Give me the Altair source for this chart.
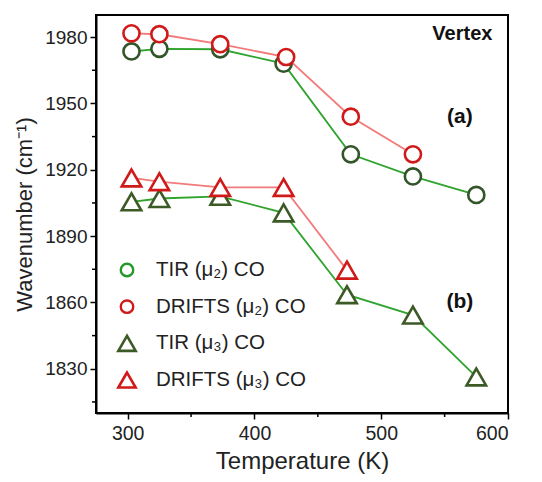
import altair as alt
import pandas as pd

# ---- data ----
series_names = ["TIR (μ₂) CO", "DRIFTS (μ₂) CO", "TIR (μ₃) CO", "DRIFTS (μ₃) CO"]

tir_mu2_T = [303, 325, 373, 423, 476, 525, 575]
tir_mu2_v = [1973.5, 1974.7, 1974.5, 1968.0, 1927.0, 1917.0, 1908.6]

drifts_mu2_T = [303, 325, 373, 425, 476, 525]
drifts_mu2_v = [1981.7, 1981.3, 1976.8, 1971.0, 1944.0, 1927.0]

tir_mu3_T = [303, 325, 373, 423, 473, 525, 575]
tir_mu3_v = [1905.5, 1907.0, 1908.0, 1900.5, 1863.5, 1854.3, 1826.3]

drifts_mu3_T = [303, 325, 373, 423, 473]
drifts_mu3_v = [1916.3, 1914.6, 1912.0, 1912.0, 1874.6]

x_major = [300, 400, 500, 600]
x_minor = [350, 450, 550]
y_major = [1830, 1860, 1890, 1920, 1950, 1980]
y_minor = [1815, 1845, 1875, 1905, 1935, 1965]

annot_text = ["Vertex", "(a)", "(b)"]
annot_T = [564, 562, 562]
annot_v = [1981.4, 1944.0, 1860.2]
annot_size = [20, 21, 21]

marker_colors = ["#33552a", "#d01a1a", "#3c5a25", "#d01a1a"]
legend_colors = ["#22992a", "#d01a1a", "#3c5a25", "#d01a1a"]
line_colors = ["#2ea32e", "#f27a7a", "#2ea32e", "#f27a7a"]
shapes = ["circle", "circle", "triangle-up", "triangle-up"]

rows = []
for name, Ts, vs in zip(series_names,
                        [tir_mu2_T, drifts_mu2_T, tir_mu3_T, drifts_mu3_T],
                        [tir_mu2_v, drifts_mu2_v, tir_mu3_v, drifts_mu3_v]):
    for t, v in zip(Ts, vs):
        rows.append({"series": name, "line": name, "T": t, "v": v})
df = pd.DataFrame(rows)
ann = pd.DataFrame({"text": annot_text, "T": annot_T, "v": annot_v, "fs": annot_size})
xm = pd.DataFrame({"T": x_minor})
ym = pd.DataFrame({"v": y_minor})
leg = pd.DataFrame({"entry": series_names})

FONT = "Liberation Sans"

x_scale = alt.Scale(domain=[275, 600], nice=False, zero=False)
y_scale = alt.Scale(domain=[1810, 1990], nice=False, zero=False)

x_axis = alt.Axis(
    title="Temperature (K)",
    values=x_major, format="d", tickSize=6,
    grid=False,
    domainColor="black", domainWidth=2, tickColor="black", tickWidth=1.5,
    labelFontSize=19.5, labelFont=FONT, labelColor="#222",
    titleFontSize=24, titleFont=FONT, titleFontWeight="normal", titleColor="#222",
    labelPadding=5, titlePadding=7,
)
y_axis = alt.Axis(
    title="Wavenumber (cm⁻¹)",
    values=y_major, format="d", tickSize=6,
    grid=False,
    domainColor="black", domainWidth=2, tickColor="black", tickWidth=1.5,
    labelFontSize=19, labelFont=FONT, labelColor="#222",
    titleFontSize=22, titleFont=FONT, titleFontWeight="normal", titleColor="#222",
    labelPadding=3, titlePadding=8,
)

base = alt.Chart(df)

lines = base.mark_line(strokeWidth=1.8).encode(
    x=alt.X("T:Q", scale=x_scale, axis=x_axis),
    y=alt.Y("v:Q", scale=y_scale, axis=y_axis),
    stroke=alt.Stroke("line:N", scale=alt.Scale(domain=series_names, range=line_colors), legend=None),
    detail="line:N",
)

color_enc = alt.Color("series:N", scale=alt.Scale(domain=series_names, range=marker_colors), legend=None)
shape_enc = alt.Shape("series:N", scale=alt.Scale(domain=series_names, range=shapes), legend=None)

circles = base.transform_filter(
    alt.FieldOneOfPredicate(field="series", oneOf=series_names[:2])
).mark_point(filled=False, fill="white", fillOpacity=1, strokeWidth=2.6, opacity=1, size=260).encode(
    x=alt.X("T:Q", scale=x_scale),
    y=alt.Y("v:Q", scale=y_scale),
    color=color_enc,
    shape=shape_enc,
)

triangles = base.transform_filter(
    alt.FieldOneOfPredicate(field="series", oneOf=series_names[2:])
).mark_point(filled=False, fill="white", fillOpacity=1, strokeWidth=2.6, opacity=1, size=380).encode(
    x=alt.X("T:Q", scale=x_scale),
    y=alt.Y("v:Q", scale=y_scale),
    color=color_enc,
    shape=shape_enc,
)

texts = alt.Chart(ann).mark_text(font=FONT, fontWeight="bold", color="#111", align="center", baseline="middle").encode(
    x=alt.X("T:Q", scale=x_scale),
    y=alt.Y("v:Q", scale=y_scale),
    text="text:N",
    size=alt.Size("fs:Q", scale=None, legend=None),
)

x_minor_ticks = alt.Chart(xm).mark_rule(color="black", strokeWidth=1.5, clip=False).encode(
    x=alt.X("T:Q", scale=x_scale),
    y=alt.value(399), y2=alt.value(402),
)
y_minor_ticks = alt.Chart(ym).mark_rule(color="black", strokeWidth=1.5, clip=False).encode(
    y=alt.Y("v:Q", scale=y_scale),
    x=alt.value(-4), x2=alt.value(-1),
)

main = alt.layer(lines, circles, triangles, texts, x_minor_ticks, y_minor_ticks)

# ---- manual legend ----
leg_y = alt.Y("entry:N", sort=series_names,
              scale=alt.Scale(type="point", domain=series_names, range=[255, 365], padding=0),
              axis=None)
leg_base = alt.Chart(leg)
leg_color = alt.Color("entry:N", scale=alt.Scale(domain=series_names, range=legend_colors), legend=None)
leg_shape = alt.Shape("entry:N", scale=alt.Scale(domain=series_names, range=shapes), legend=None)
leg_circles = leg_base.transform_filter(
    alt.FieldOneOfPredicate(field="entry", oneOf=series_names[:2])
).mark_point(filled=False, fill="white", fillOpacity=1, opacity=1, strokeWidth=2.4, size=155).encode(
    x=alt.value(31), y=leg_y, color=leg_color, shape=leg_shape,
)
leg_tris = leg_base.transform_filter(
    alt.FieldOneOfPredicate(field="entry", oneOf=series_names[2:])
).mark_point(filled=False, fill="white", fillOpacity=1, opacity=1, strokeWidth=2.6, size=300).encode(
    x=alt.value(31), y=leg_y, color=leg_color, shape=leg_shape,
)
leg_text = leg_base.mark_text(font=FONT, fontSize=20.5, color="#222", align="left", baseline="middle").encode(
    x=alt.value(60), y=leg_y, text="entry:N",
)
legend_layer = alt.layer(leg_circles, leg_tris, leg_text)

chart = alt.layer(main, legend_layer).resolve_scale(
    y="independent", color="independent", shape="independent"
).properties(
    width=412, height=398,
    autosize=alt.AutoSizeParams(type="none"),
    padding={"left": 96, "top": 15, "right": 34, "bottom": 69},
    background="white",
).configure_view(stroke="black", strokeWidth=2)

chart.save("out.html", embed_options={"renderer": "svg", "actions": False})
